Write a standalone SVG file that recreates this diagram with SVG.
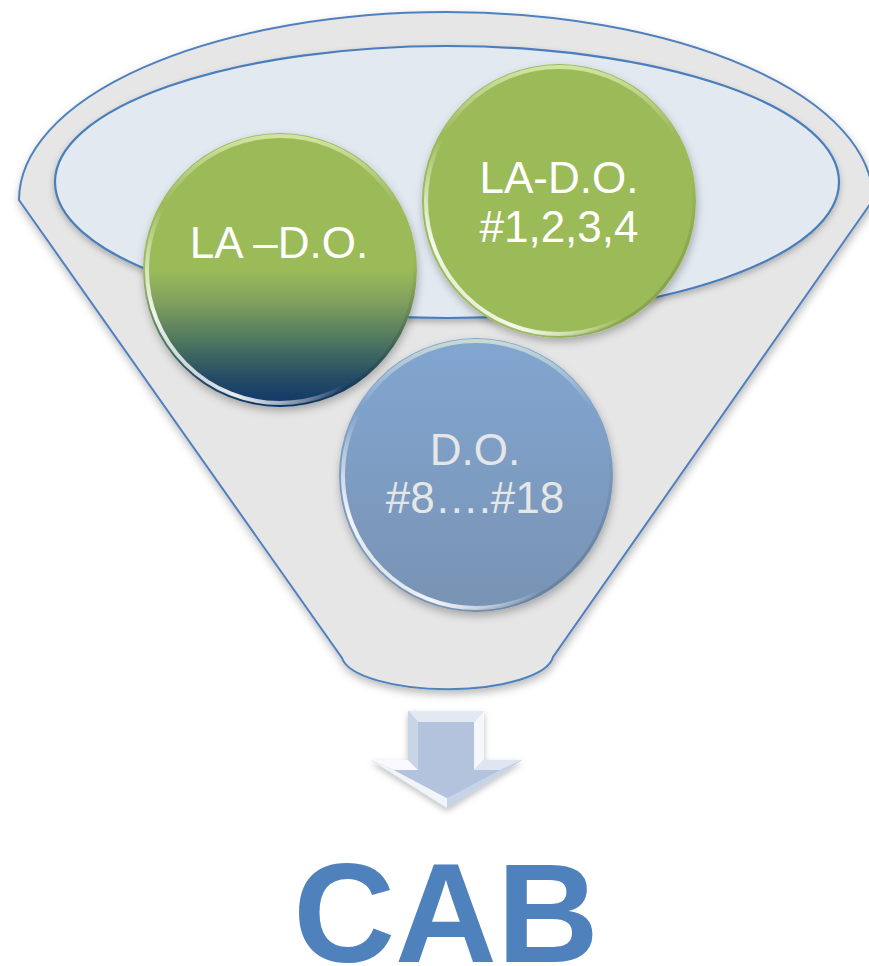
<svg xmlns="http://www.w3.org/2000/svg" width="869" height="966" viewBox="0 0 869 966">
  <defs>
    <filter id="shadow" x="-10%" y="-10%" width="120%" height="125%">
      <feDropShadow dx="1" dy="4" stdDeviation="4" flood-color="#000" flood-opacity="0.28"/>
    </filter>
    <filter id="softshadow" x="-10%" y="-10%" width="120%" height="130%">
      <feDropShadow dx="0" dy="3" stdDeviation="3" flood-color="#000" flood-opacity="0.25"/>
    </filter>
    <linearGradient id="gradLeft" x1="0" y1="0" x2="0" y2="1">
      <stop offset="0" stop-color="#9bbb59"/>
      <stop offset="0.5" stop-color="#9bbb59"/>
      <stop offset="0.62" stop-color="#7f9f5e"/>
      <stop offset="0.76" stop-color="#4d765f"/>
      <stop offset="0.9" stop-color="#234a66"/>
      <stop offset="1" stop-color="#0e3668"/>
    </linearGradient>
    <linearGradient id="gradBlue" x1="0" y1="0" x2="0" y2="1">
      <stop offset="0" stop-color="#82a6d1"/>
      <stop offset="1" stop-color="#7893b3"/>
    </linearGradient>
    <linearGradient id="rimTop" x1="0" y1="0" x2="0" y2="1">
      <stop offset="0" stop-color="#f4ffd0" stop-opacity="0.6"/>
      <stop offset="0.25" stop-color="#ffffff" stop-opacity="0"/>
      <stop offset="1" stop-color="#ffffff" stop-opacity="0"/>
    </linearGradient>
    <linearGradient id="rimLow" x1="1" y1="0" x2="0" y2="1">
      <stop offset="0" stop-color="#ffffff" stop-opacity="0"/>
      <stop offset="0.6" stop-color="#ffffff" stop-opacity="0"/>
      <stop offset="0.82" stop-color="#ffffff" stop-opacity="0.9"/>
      <stop offset="1" stop-color="#ffffff" stop-opacity="0.2"/>
    </linearGradient>
    <linearGradient id="rimDark" x1="0" y1="0" x2="1" y2="1">
      <stop offset="0" stop-color="#000" stop-opacity="0"/>
      <stop offset="0.7" stop-color="#000" stop-opacity="0"/>
      <stop offset="1" stop-color="#000" stop-opacity="0.25"/>
    </linearGradient>
    <style>
      .rim { fill: #e6e6e6; stroke: #4f81bd; stroke-width: 2; }
      .mouth { fill: #e3e9f1; stroke: #4a7ebb; stroke-width: 2.2; }
      .lbl { font-family: "Liberation Sans", Arial, sans-serif; font-size: 44px; text-anchor: middle; }
      .white { fill: #ffffff; }
      .grey { fill: #e6e6e6; }
      .hlTop { fill: none; stroke: url(#rimTop); stroke-width: 4; }
      .hlLow { fill: none; stroke: url(#rimLow); stroke-width: 4; }
      .hlDark { fill: none; stroke: url(#rimDark); stroke-width: 3; }
      .cab { font-family: "Liberation Sans", Arial, sans-serif; font-size: 141px; font-weight: bold; fill: #4f81bd; text-anchor: middle; }
    </style>
  </defs>
  <rect width="869" height="966" fill="#ffffff"/>

  <g id="funnel">
    <path class="rim" filter="url(#shadow)" d="M 19,200 A 427 188 0 0 1 873,200 L 553,657 A 106 35 0 0 1 342,658 Z"/>
    <ellipse class="mouth" filter="url(#softshadow)" cx="447" cy="182" rx="392" ry="136"/>
  </g>

  <g id="node-la-do">
    <circle cx="280" cy="270" r="137" fill="url(#gradLeft)" filter="url(#shadow)"/>
    <circle cx="280" cy="270" r="134" class="hlTop"/>
    <circle cx="280" cy="270" r="133" class="hlLow"/>
    <circle cx="280" cy="270" r="135" class="hlDark"/>
    <text class="lbl white" x="279" y="258">LA –D.O.</text>
  </g>

  <g id="node-la-do-1234">
    <circle cx="559" cy="201" r="137" fill="#9bbb59" filter="url(#shadow)"/>
    <circle cx="559" cy="201" r="134" class="hlTop"/>
    <circle cx="559" cy="201" r="133" class="hlLow"/>
    <circle cx="559" cy="201" r="135" class="hlDark"/>
    <text class="lbl white" x="559" y="193">LA-D.O.</text>
    <text class="lbl white" x="559" y="242">#1,2,3,4</text>
  </g>

  <g id="node-do-8-18">
    <circle cx="476" cy="475" r="137" fill="url(#gradBlue)" filter="url(#shadow)"/>
    <circle cx="476" cy="475" r="134" class="hlTop"/>
    <circle cx="476" cy="475" r="133" class="hlLow"/>
    <circle cx="476" cy="475" r="135" class="hlDark"/>
    <text class="lbl grey" x="475" y="465">D.O.</text>
    <text class="lbl grey" x="475" y="513">#8….#18</text>
  </g>

  <g id="connectors">
    <g id="arrow" filter="url(#softshadow)">
      <polygon points="408,711 484,711 484,760 522,760 447,808 371,760 408,760" fill="#b4c3dd"/>
      <polygon points="408,711 484,711 474,722 418,722" fill="#e3e9f3"/>
      <polygon points="408,711 418,722 418,770 408,760" fill="#c9d4e7"/>
      <polygon points="484,711 484,760 474,770 474,722" fill="#f4f7fb"/>
      <polygon points="371,760 408,760 418,770 394,770" fill="#f7f9fc"/>
      <polygon points="484,760 522,760 500,770 474,770" fill="#dfe6f1"/>
      <polygon points="371,760 394,770 447,798 447,808" fill="#f1f4f9"/>
      <polygon points="522,760 447,808 447,798 500,770" fill="#c7d3e6"/>
      <polygon points="418,722 474,722 474,770 500,770 447,798 394,770 418,770" fill="#b4c3dd"/>
    </g>
  </g>

  <g id="label-cab">
    <text class="cab" x="446" y="962">CAB</text>
  </g>
</svg>
